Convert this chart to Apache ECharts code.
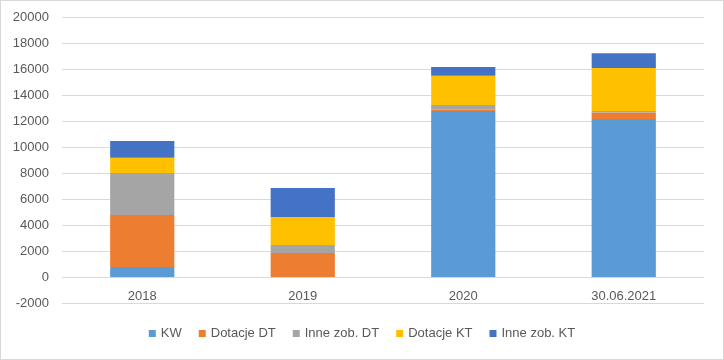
<!DOCTYPE html>
<html><head><meta charset="utf-8">
<script src="https://cdn.jsdelivr.net/npm/echarts@6/dist/echarts.min.js"></script>
<style>
html,body{margin:0;padding:0;background:#fff;}
#c{width:722px;height:358px;border:1px solid #d9d9d9;}
</style></head><body>
<div id="c"></div>
<script>
const categories = ['2018', '2019', '2020', '30.06.2021'];
const seriesNames = ['KW', 'Dotacje DT', 'Inne zob. DT', 'Dotacje KT', 'Inne zob. KT'];
const kw = [770, 0, 12770, 12150];
const dotacjeDT = [4000, 1850, 100, 510];
const inneDT = [3230, 620, 360, 100];
const dotacjeKT = [1180, 2150, 2250, 3310];
const inneKT = [1280, 2230, 670, 1150];
const colors = ['#5B9BD5', '#ED7D31', '#A5A5A5', '#FFC000', '#4472C4'];

const values = [kw, dotacjeDT, inneDT, dotacjeKT, inneKT];
const font = '"Liberation Sans", Arial, sans-serif';
const chart = echarts.init(document.getElementById('c'), null, {renderer: 'canvas'});
chart.setOption({
  animation: false,
  color: colors,
  grid: {left: 61, right: 19, top: 16, bottom: 56},
  legend: {
    bottom: 14, left: 'center',
    itemWidth: 7, itemHeight: 7, itemGap: 17,
    icon: 'rect',
    textStyle: {color: '#595959', fontSize: 13, fontFamily: font},
    data: seriesNames
  },
  xAxis: {
    type: 'category', data: categories, position: 'bottom', offset: -26,
    axisLine: {show: false, onZero: false},
    axisTick: {show: false},
    axisLabel: {color: '#595959', fontSize: 13, fontFamily: font, margin: 13}
  },
  yAxis: {
    type: 'value', min: -2000, max: 20000, interval: 2000,
    axisLine: {show: false}, axisTick: {show: false},
    axisLabel: {color: '#595959', fontSize: 13, fontFamily: font, margin: 13, formatter: v => String(v)},
    splitLine: {lineStyle: {color: '#d9d9d9'}}
  },
  series: seriesNames.map((n, i) => ({
    name: n, type: 'bar', stack: 'a', barWidth: '40%',
    data: values[i]
  }))
});
</script></body></html>
